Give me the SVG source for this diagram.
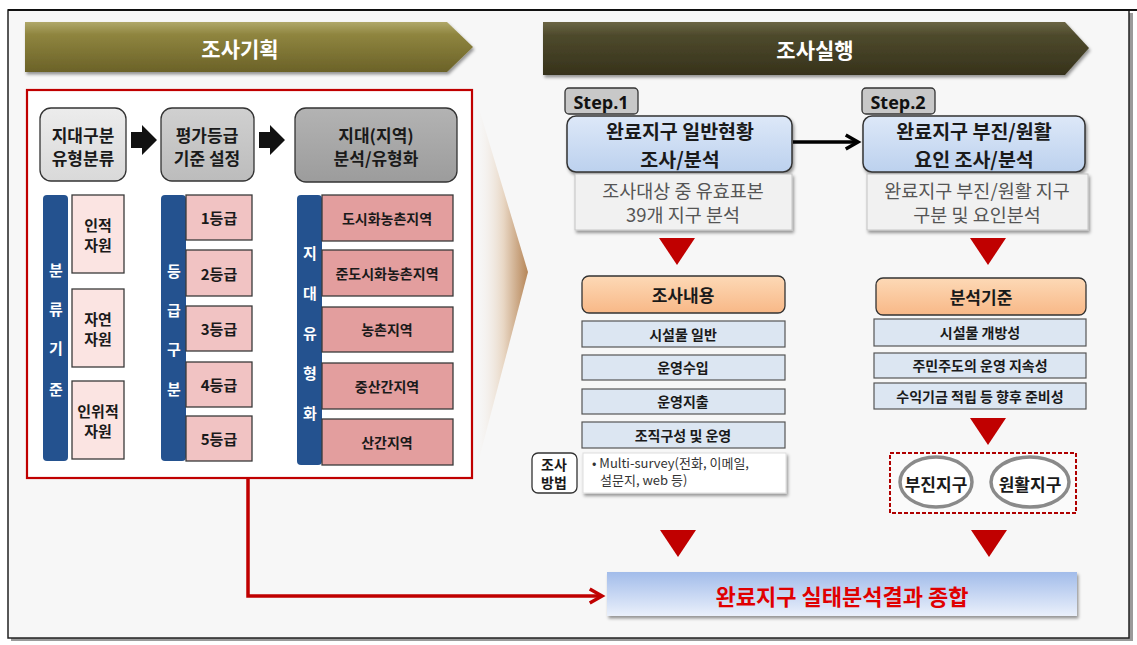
<svg xmlns="http://www.w3.org/2000/svg" width="1137" height="645" viewBox="0 0 1137 645">
<style>
.ko{font-family:"Noto Sans CJK KR","Noto Sans",sans-serif}
.t{font-family:"Noto Sans CJK KR","Noto Sans",sans-serif;text-anchor:middle;dominant-baseline:central;fill:#1a1a1a;font-weight:bold}
.bar{fill:#24528f}
.res{fill:#fbe4e2;stroke:#3a3a3a;stroke-width:1.3}
.grd{fill:#f1c3c3;stroke:#3a3a3a;stroke-width:1.3}
.reg{fill:#e39e9e;stroke:#3a3a3a;stroke-width:1.3}
.lst{fill:#dce6f2;stroke:#555;stroke-width:1.2}
.tri{fill:#c00000}
.step{fill:#c8c8c8;stroke:#333;stroke-width:1.3}
.main{fill:url(#stepBlue);stroke:#333;stroke-width:1.5}
.sub{fill:#f1f1f1;stroke:#c4c4c4;stroke-width:1}
.org{fill:url(#orange);stroke:#333;stroke-width:1.3}
.wt{fill:#ffffff}
.gt{fill:#555555;font-weight:normal}
</style>
<defs>
<linearGradient id="olive" x1="0" y1="0" x2="0" y2="1">
<stop offset="0" stop-color="#b0a86a"/><stop offset="0.25" stop-color="#8f853f"/><stop offset="1" stop-color="#6b6228"/>
</linearGradient>
<linearGradient id="darkOlive" x1="0" y1="0" x2="0" y2="1">
<stop offset="0" stop-color="#6b6544"/><stop offset="0.25" stop-color="#4e4a2c"/><stop offset="1" stop-color="#36321b"/>
</linearGradient>
<linearGradient id="stepBlue" x1="0" y1="0" x2="0" y2="1">
<stop offset="0" stop-color="#dde8f8"/><stop offset="1" stop-color="#bcd1ee"/>
</linearGradient>
<linearGradient id="orange" x1="0" y1="0" x2="0" y2="1">
<stop offset="0" stop-color="#fdd9b6"/><stop offset="1" stop-color="#f8b887"/>
</linearGradient>
<linearGradient id="finalBlue" x1="0" y1="0" x2="0" y2="1">
<stop offset="0" stop-color="#a2bcea"/><stop offset="1" stop-color="#eaf0fb"/>
</linearGradient>
<linearGradient id="beige" x1="0" y1="0" x2="1" y2="0">
<stop offset="0" stop-color="#f7f7f7" stop-opacity="0"/><stop offset="0.55" stop-color="#e8d6c3"/><stop offset="1" stop-color="#b68658"/>
</linearGradient>
<linearGradient id="gray1" x1="0" y1="0" x2="0" y2="1">
<stop offset="0" stop-color="#ececec"/><stop offset="1" stop-color="#d9d9d9"/>
</linearGradient>
<linearGradient id="gray2" x1="0" y1="0" x2="0" y2="1">
<stop offset="0" stop-color="#d0d0d0"/><stop offset="1" stop-color="#bcbcbc"/>
</linearGradient>
<linearGradient id="gray3" x1="0" y1="0" x2="0" y2="1">
<stop offset="0" stop-color="#b3b3b3"/><stop offset="1" stop-color="#9c9c9c"/>
</linearGradient>
<filter id="sh" x="-10%" y="-10%" width="130%" height="140%">
<feDropShadow dx="1.5" dy="2.5" stdDeviation="1.5" flood-color="#000" flood-opacity="0.4"/>
</filter>
<marker id="blkHead" viewBox="0 0 10 10" refX="8" refY="5" markerWidth="5" markerHeight="5" orient="auto" markerUnits="strokeWidth">
<path d="M1,1 L8,5 L1,9" fill="none" stroke="#000" stroke-width="2"/>
</marker>
<marker id="redHead" viewBox="0 0 10 10" refX="8" refY="5" markerWidth="5" markerHeight="5" orient="auto" markerUnits="strokeWidth">
<path d="M1,1 L8,5 L1,9" fill="none" stroke="#c00000" stroke-width="2"/>
</marker>
</defs>

<!-- frame -->
<rect x="11" y="13" width="1122" height="628" fill="#9a9a9a"/>
<rect x="8" y="10" width="1121" height="628" fill="#f7f7f7" stroke="#222" stroke-width="1.5"/>
<line x1="8" y1="10" x2="1137" y2="10" stroke="#111" stroke-width="2"/>

<!-- big beige chevron -->
<path d="M474,92 L528,272 L474,478 Z" fill="url(#beige)"/>

<g id="banner-left">
<path d="M25,22 H447 L473,47 L447,72 H25 Z" fill="url(#olive)" filter="url(#sh)"/>
<text class="t wt" x="240" y="48" font-size="21">조사기획</text>
</g>
<g id="banner-right">
<path d="M543,22 H1065 L1089,48 L1065,75 H543 Z" fill="url(#darkOlive)" filter="url(#sh)"/>
<text class="t wt" x="815" y="49" font-size="21">조사실행</text>
</g>

<g id="plan-panel">
<rect x="27" y="90" width="445" height="388" fill="#ffffff" stroke="#c00000" stroke-width="2.2"/>
</g>

<g id="zone-type">
<rect x="40" y="108" width="86" height="73" rx="11" fill="url(#gray1)" stroke="#333" stroke-width="1.3"/>
<text class="t" x="83" y="134" font-size="17">지대구분</text>
<text class="t" x="83" y="157" font-size="17">유형분류</text>
</g>
<g id="grade-set">
<rect x="161" y="108" width="93" height="73" rx="11" fill="url(#gray2)" stroke="#333" stroke-width="1.3"/>
<text class="t" x="207" y="134" font-size="17">평가등급</text>
<text class="t" x="207" y="157" font-size="17">기준 설정</text>
</g>
<g id="zone-analysis">
<rect x="295" y="108" width="162" height="74" rx="11" fill="url(#gray3)" stroke="#333" stroke-width="1.3"/>
<text class="t" x="376" y="134" font-size="17">지대(지역)</text>
<text class="t" x="376" y="157" font-size="17">분석/유형화</text>
</g>

<g id="class-criteria">
<rect class="bar" x="43" y="195" width="25" height="266" rx="4"/>
<text class="t wt" x="56" y="269" font-size="15">분</text>
<text class="t wt" x="56" y="308" font-size="15">류</text>
<text class="t wt" x="56" y="347" font-size="15">기</text>
<text class="t wt" x="56" y="388" font-size="15">준</text>
<rect class="res" x="72" y="195" width="52" height="78"/>
<text class="t" x="98" y="224" font-size="15">인적</text>
<text class="t" x="98" y="244" font-size="15">자원</text>
<rect class="res" x="72" y="289" width="52" height="78"/>
<text class="t" x="98" y="318" font-size="15">자연</text>
<text class="t" x="98" y="338" font-size="15">자원</text>
<rect class="res" x="72" y="381" width="52" height="78"/>
<text class="t" x="98" y="410" font-size="15">인위적</text>
<text class="t" x="98" y="430" font-size="15">자원</text>
</g>

<g id="grade-division">
<rect class="bar" x="161" y="195" width="25" height="266" rx="4"/>
<text class="t wt" x="174" y="270" font-size="15">등</text>
<text class="t wt" x="174" y="309" font-size="15">급</text>
<text class="t wt" x="174" y="348" font-size="15">구</text>
<text class="t wt" x="174" y="388" font-size="15">분</text>
<rect class="grd" x="186" y="195" width="66" height="45"/>
<text class="t" x="219" y="217" font-size="15">1등급</text>
<rect class="grd" x="186" y="250" width="66" height="46"/>
<text class="t" x="219" y="273" font-size="15">2등급</text>
<rect class="grd" x="186" y="306" width="66" height="45"/>
<text class="t" x="219" y="328" font-size="15">3등급</text>
<rect class="grd" x="186" y="362" width="66" height="45"/>
<text class="t" x="219" y="384" font-size="15">4등급</text>
<rect class="grd" x="186" y="416" width="66" height="45"/>
<text class="t" x="219" y="438" font-size="15">5등급</text>
</g>

<g id="zone-typing">
<rect class="bar" x="297" y="195" width="25" height="270" rx="4"/>
<text class="t wt" x="310" y="252" font-size="15">지</text>
<text class="t wt" x="310" y="292" font-size="15">대</text>
<text class="t wt" x="310" y="332" font-size="15">유</text>
<text class="t wt" x="310" y="372" font-size="15">형</text>
<text class="t wt" x="310" y="412" font-size="15">화</text>
<rect class="reg" x="322" y="195" width="131" height="46"/>
<text class="t" x="387" y="218" font-size="14">도시화농촌지역</text>
<rect class="reg" x="322" y="250" width="131" height="46"/>
<text class="t" x="387" y="273" font-size="14">준도시화농촌지역</text>
<rect class="reg" x="322" y="307" width="131" height="45"/>
<text class="t" x="387" y="329" font-size="14">농촌지역</text>
<rect class="reg" x="322" y="363" width="131" height="46"/>
<text class="t" x="387" y="386" font-size="14">중산간지역</text>
<rect class="reg" x="322" y="419" width="131" height="46"/>
<text class="t" x="387" y="442" font-size="14">산간지역</text>
</g>

<g id="step1">
<rect class="step" x="565" y="88" width="73" height="26" rx="4"/>
<text x="601" y="102" font-family="'Open Sans','Liberation Sans',sans-serif" font-weight="bold" font-size="18" text-anchor="middle" dominant-baseline="central" fill="#111">Step.1</text>
<rect class="main" x="567" y="116" width="225" height="56" rx="9" filter="url(#sh)"/>
<text class="t" x="680" y="130" font-size="19.5">완료지구 일반현황</text>
<text class="t" x="680" y="158" font-size="19.5">조사/분석</text>
</g>
<g id="step1-target">
<rect class="sub" x="575" y="174" width="217" height="56" filter="url(#sh)"/>
<text class="t gt" x="683" y="190" font-size="18.5">조사대상 중 유효표본</text>
<text class="t gt" x="683" y="214" font-size="18.5">39개 지구 분석</text>
</g>
<g id="survey-content">
<rect class="org" x="582" y="276" width="203" height="37" rx="7"/>
<text class="t" x="683" y="294" font-size="17">조사내용</text>
<rect class="lst" x="582" y="321" width="203" height="26"/>
<text class="t" x="683" y="334" font-size="14">시설물 일반</text>
<rect class="lst" x="582" y="355" width="203" height="25"/>
<text class="t" x="683" y="367" font-size="14">운영수입</text>
<rect class="lst" x="582" y="389" width="203" height="25"/>
<text class="t" x="683" y="401" font-size="14">운영지출</text>
<rect class="lst" x="582" y="422" width="203" height="26"/>
<text class="t" x="683" y="435" font-size="14">조직구성 및 운영</text>
</g>
<g id="survey-method">
<rect x="532" y="453" width="45" height="40" rx="6" fill="#fff" stroke="#333" stroke-width="1.3"/>
<text class="t" x="554" y="464" font-size="14">조사</text>
<text class="t" x="554" y="482" font-size="14">방법</text>
<rect x="583" y="453" width="203" height="40" fill="#fff" stroke="#ddd" stroke-width="1" filter="url(#sh)"/>
<text x="592" y="468" font-size="13" class="ko" fill="#333">• Multi-survey(전화, 이메일,</text>
<text x="600" y="485" font-size="13" class="ko" fill="#333">설문지, web 등)</text>
</g>

<g id="step2">
<rect class="step" x="862" y="88" width="73" height="26" rx="4"/>
<text x="898" y="102" font-family="'Open Sans','Liberation Sans',sans-serif" font-weight="bold" font-size="18" text-anchor="middle" dominant-baseline="central" fill="#111">Step.2</text>
<rect class="main" x="863" y="116" width="222" height="56" rx="9" filter="url(#sh)"/>
<text class="t" x="974" y="130" font-size="19.5">완료지구 부진/원활</text>
<text class="t" x="974" y="158" font-size="19.5">요인 조사/분석</text>
</g>
<g id="step2-target">
<rect class="sub" x="867" y="174" width="221" height="56" filter="url(#sh)"/>
<text class="t gt" x="977" y="190" font-size="18.5">완료지구 부진/원활 지구</text>
<text class="t gt" x="977" y="214" font-size="18.5">구분 및 요인분석</text>
</g>
<g id="analysis-criteria">
<rect class="org" x="876" y="278" width="210" height="37" rx="7"/>
<text class="t" x="981" y="296" font-size="17">분석기준</text>
<rect class="lst" x="874" y="319" width="212" height="27"/>
<text class="t" x="980" y="332" font-size="14">시설물 개방성</text>
<rect class="lst" x="874" y="353" width="212" height="25"/>
<text class="t" x="980" y="365" font-size="14">주민주도의 운영 지속성</text>
<rect class="lst" x="874" y="383" width="212" height="26"/>
<text class="t" x="980" y="396" font-size="14">수익기금 적립 등 향후 준비성</text>
</g>
<g id="district-types">
<rect x="890" y="453" width="186" height="60" fill="#fafafa" stroke="#b00000" stroke-width="2" stroke-dasharray="4,2"/>
<ellipse cx="936" cy="482" rx="36" ry="25" fill="#fff" stroke="#8a8a8a" stroke-width="3.5"/>
<text class="t" x="936" y="483" font-size="17">부진지구</text>
<ellipse cx="1030" cy="482" rx="39" ry="25" fill="#fff" stroke="#8a8a8a" stroke-width="3.5"/>
<text class="t" x="1030" y="483" font-size="17">원활지구</text>
</g>

<g id="result">
<rect x="607" y="572" width="470" height="44" fill="url(#finalBlue)" filter="url(#sh)"/>
<text class="t" x="842" y="595" font-size="22" style="fill:#e00000">완료지구 실태분석결과 종합</text>
</g>

<g id="connectors">
<path d="M131,132 H142 V125 L157,140 L142,155 V148 H131 Z" fill="#111"/>
<path d="M259,132 H270 V125 L285,140 L270,155 V148 H259 Z" fill="#111"/>
<line x1="793" y1="142" x2="858" y2="142" stroke="#000" stroke-width="3.5" marker-end="url(#blkHead)"/>
<path class="tri" d="M659,238 H695 L677,265 Z"/>
<path class="tri" d="M970,238 H1006 L988,265 Z"/>
<path class="tri" d="M970,418 H1006 L988,445 Z"/>
<path class="tri" d="M660,530 H696 L678,557 Z"/>
<path class="tri" d="M971,530 H1007 L989,557 Z"/>
<path d="M248,479 V596 H602" fill="none" stroke="#c00000" stroke-width="3.5" marker-end="url(#redHead)"/>
</g>
</svg>
